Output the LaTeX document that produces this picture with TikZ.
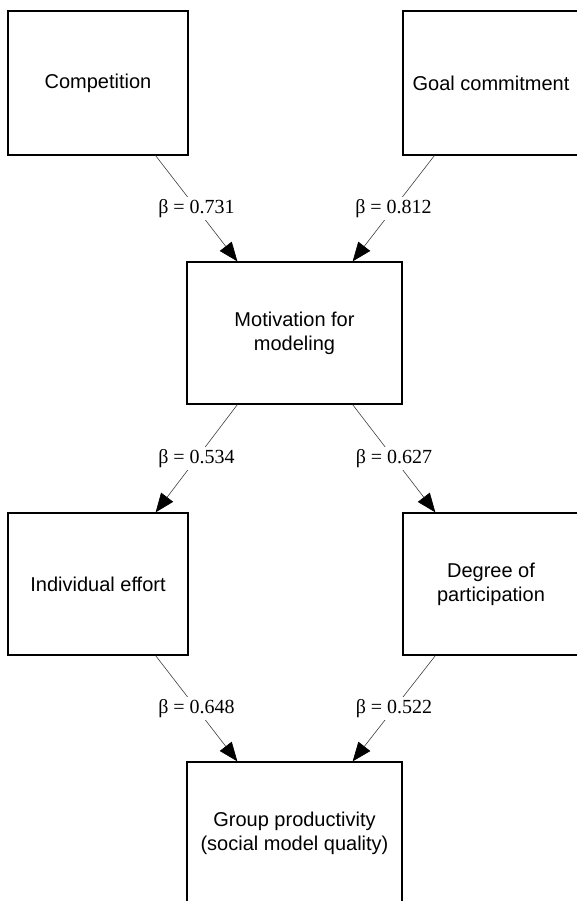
\documentclass[tikz,border=0pt]{standalone}
\usepackage{fontspec}
\setmainfont{Liberation Serif}
\setsansfont{Liberation Sans}
\usetikzlibrary{arrows.meta}
\begin{document}
\begin{tikzpicture}[x=1pt,y=-1pt,
  box/.style={draw,line width=1.3pt,inner sep=0pt,align=center,
    font=\sffamily\fontsize{20}{24}\selectfont},
  conn/.style={draw=black!75,line width=0.6pt,
    -{Triangle[length=19pt,width=15pt,fill=black,color=black]}},
  lbl/.style={fill=white,inner sep=2pt,font=\rmfamily\fontsize{20}{24}\selectfont}]
\useasboundingbox (0,0) rectangle (577,901);
\clip (0,0) rectangle (577,901);
\fill[white] (0,0) rectangle (577,901);
\node[box,minimum width=180pt,minimum height=144pt] (comp) at (98,83) {Competition};
\node[box,minimum width=176pt,minimum height=144pt] (goal) at (491,83) {Goal commitment};
\node[box,minimum width=215pt,minimum height=142pt] (mot) at (294.5,333) {Motivation for\\modeling};
\node[box,minimum width=180pt,minimum height=142pt] (ind) at (98,584) {Individual effort};
\node[box,minimum width=176pt,minimum height=142pt] (deg) at (491,584) {Degree of\\participation};
\node[box,minimum width=215pt,minimum height=143pt] (grp) at (294.5,833.5) {Group productivity\\(social model quality)};
\draw[conn] ([xshift=-33pt]comp.south east) -- node[lbl]{β = 0.731} ([xshift=51pt]mot.north west);
\draw[conn] ([xshift=32pt]goal.south west) -- node[lbl]{β = 0.812} ([xshift=-50pt]mot.north east);
\draw[conn] ([xshift=51pt]mot.south west) -- node[lbl]{β = 0.534} ([xshift=-33pt]ind.north east);
\draw[conn] ([xshift=-50pt]mot.south east) -- node[lbl]{β = 0.627} ([xshift=33pt]deg.north west);
\draw[conn] ([xshift=-33pt]ind.south east) -- node[lbl]{β = 0.648} ([xshift=51pt]grp.north west);
\draw[conn] ([xshift=33pt]deg.south west) -- node[lbl]{β = 0.522} ([xshift=-50pt]grp.north east);
\end{tikzpicture}
\end{document}
